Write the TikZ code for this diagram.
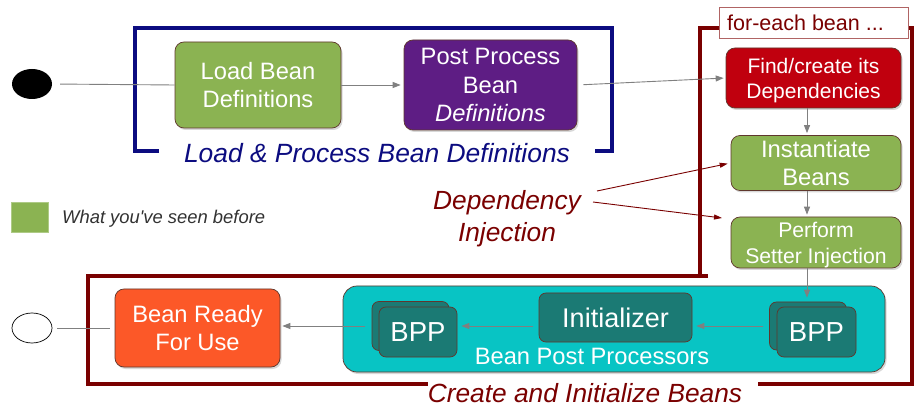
\documentclass[tikz,border=0pt]{standalone}
\usepackage{fontspec}
\setmainfont{Liberation Sans}
\usetikzlibrary{arrows.meta,shadows,shapes.geometric}
\definecolor{cgreen}{RGB}{139,179,82}
\definecolor{cpurple}{RGB}{94,29,132}
\definecolor{cred}{RGB}{192,0,14}
\definecolor{corange}{RGB}{252,88,40}
\definecolor{cteal}{RGB}{8,196,196}
\definecolor{cdteal}{RGB}{27,122,116}
\definecolor{cnavy}{RGB}{12,12,128}
\definecolor{dred}{RGB}{122,0,0}
\definecolor{lblred}{RGB}{176,100,100}
\definecolor{boxln}{RGB}{95,55,45}
\definecolor{arrgray}{RGB}{128,128,128}
\definecolor{legtxt}{RGB}{50,50,50}
\newcommand\myfs[2]{\fontsize{#1}{#2}\selectfont}
\begin{document}
\begin{tikzpicture}[x=1pt,y=-1pt,
  box/.style={draw=boxln, line width=0.7pt, rounded corners=9pt, text=white, align=center, inner sep=0pt,
    drop shadow={shadow xshift=1.5pt,shadow yshift=-2pt,opacity=0.3}},
  card/.style={draw=boxln, line width=0.7pt, rounded corners=7pt, fill=cdteal, text=white, inner sep=0pt,
    minimum width=78pt, minimum height=50pt, font=\myfs{27.5}{32}},
  arr/.style={draw=arrgray, line width=0.9pt, -{Triangle[length=8pt,width=6pt]}},
  ln/.style={draw=arrgray, line width=0.9pt},
  darr/.style={draw=dred, line width=0.9pt, -{Triangle[length=8pt,width=5pt]}},
  brk/.style={line width=4.5pt, line join=miter},
]
\useasboundingbox (0,0) rectangle (920,411);
\fill[white] (0,0) rectangle (920,411);

% brackets
\draw[brk, draw=cnavy] (159,151) -- (135,151) -- (135,28) -- (612,28) -- (612,151) -- (595,151);
\draw[brk, draw=dred] (719,28) -- (700,28) -- (700,278);
\draw[brk, draw=dred] (708,276) -- (88,276) -- (88,384) -- (428,384);
\draw[brk, draw=dred] (758,384) -- (912,384) -- (912,28) -- (906,28);

% for-each label
\node[draw=lblred, line width=0.8pt, fill=white, minimum width=189pt, minimum height=31pt, inner sep=0pt] (lbl) at (813.5,23) {};
\node[anchor=west, text=dred, font=\myfs{21.5}{24}, inner sep=0pt] (lbltxt) at (727,23) {for-each bean ...};

% start / end
\node[ellipse, fill=black, minimum width=40pt, minimum height=30pt, inner sep=0pt] (start) at (32,84) {};
\node[ellipse, draw=black, line width=0.7pt, fill=white, minimum width=40pt, minimum height=30pt, inner sep=0pt] (end) at (32,328) {};

% top row
\node[box, fill=cgreen, minimum width=166pt, minimum height=86pt, font=\myfs{23.7}{28.5}] (load) at (258,85) {Load Bean\\Definitions};
\node[box, fill=cpurple, minimum width=173pt, minimum height=90pt, font=\myfs{23.7}{28.5}] (post) at (490.5,85) {Post Process\\Bean\\\textit{Definitions}};
\node[box, fill=cred, minimum width=175pt, minimum height=60pt, font=\myfs{21}{25}] (find) at (813.5,78) {\rule{0pt}{19.5pt}Find/create its\\Dependencies};
\node[box, fill=cgreen, minimum width=170pt, minimum height=55pt, font=\myfs{23.8}{28}] (inst) at (816,163) {Instantiate\\Beans};
\node[box, fill=cgreen, minimum width=170pt, minimum height=51pt, font=\myfs{21.2}{26}] (perf) at (816,242.5) {\rule{0pt}{19.5pt}Perform\\Setter Injection};

\node[text=cnavy, font=\myfs{26.4}{30}\itshape, anchor=base, inner sep=0pt] (lp) at (377,163) {Load \& Process Bean Definitions};

% legend
\node[fill=cgreen, draw=cgreen!70!white, minimum width=37pt, minimum height=30pt, inner sep=0pt] (leg) at (29.5,217) {};
\node[anchor=west, text=legtxt, font=\myfs{18.4}{22}\itshape, inner sep=0pt] (legt) at (62,219) {What you\textquotesingle ve seen before};

% dependency injection
\node[text=dred, font=\myfs{26.3}{32}\itshape, align=center, inner sep=0pt] (dep) at (507,219) {Dependency\\Injection};
\coordinate (d1) at (597,191);
\coordinate (d2) at (593,202);
\coordinate (d2end) at (722,218);

% bottom row
\node[box, fill=corange, minimum width=165pt, minimum height=78pt, font=\myfs{23.7}{28}] (ready) at (197.5,328) {Bean Ready\\For Use};
\node[draw=boxln, line width=0.7pt, rounded corners=14pt, fill=cteal, minimum width=542pt, minimum height=86pt, inner sep=0pt,
  drop shadow={shadow xshift=1.5pt,shadow yshift=-2pt,opacity=0.3}] (bpps) at (614,329) {};
\node[text=white, font=\myfs{23.7}{28}, anchor=base, inner sep=0pt] (bppst) at (592,364) {Bean Post Processors};

\node[card, minimum width=77pt, minimum height=49pt] (bppLb) at (410.5,326) {};
\node[card] (bppLf) at (418,332) {BPP};
\node[card, minimum width=153pt, minimum height=49pt, font=\myfs{27}{32}] (init) at (615.5,317.5) {Initializer};
\node[card, minimum width=77pt, minimum height=48pt] (bppRb) at (808,326) {};
\node[card, minimum width=79pt] (bppRf) at (816.5,332) {BPP};

\coordinate (ax) at (807,0);

% connectors
\draw[ln, shorten <=8pt] (start.east) -- (load.west);
\draw[arr, shorten >=3pt] (load.east) -- (post.west);
\draw[arr, shorten <=6pt, shorten >=2pt] (post.east) -- (find.west);
\draw[arr, shorten >=2pt] (find.south -| ax) -- (inst.north -| ax);
\draw[arr, shorten >=2pt] (inst.south -| ax) -- (perf.north -| ax);
\draw[arr, shorten >=4pt] (perf.south -| ax) -- (bppRb.north -| ax);
\draw[arr, shorten <=6pt, shorten >=4pt] (bppRb.west) -- (bppRb.west -| init.east);
\draw[arr, shorten <=6pt, shorten >=4pt] (init.west |- bppLb.west) -- (bppLb.west -| bppLf.east);
\draw[arr, shorten <=7pt, shorten >=2pt] (bppLb.west) -- (bppLb.west -| ready.east);
\draw[ln, shorten <=5pt, shorten >=5pt] (end.east) -- (ready.west);
\draw[darr, shorten >=3pt] (d1) -- (inst.west);
\draw[darr] (d2) -- (d2end);

\node[text=dred, font=\myfs{26.3}{30}\itshape, anchor=base, inner sep=0pt] (cib) at (585,402) {Create and Initialize Beans};
\end{tikzpicture}
\end{document}
